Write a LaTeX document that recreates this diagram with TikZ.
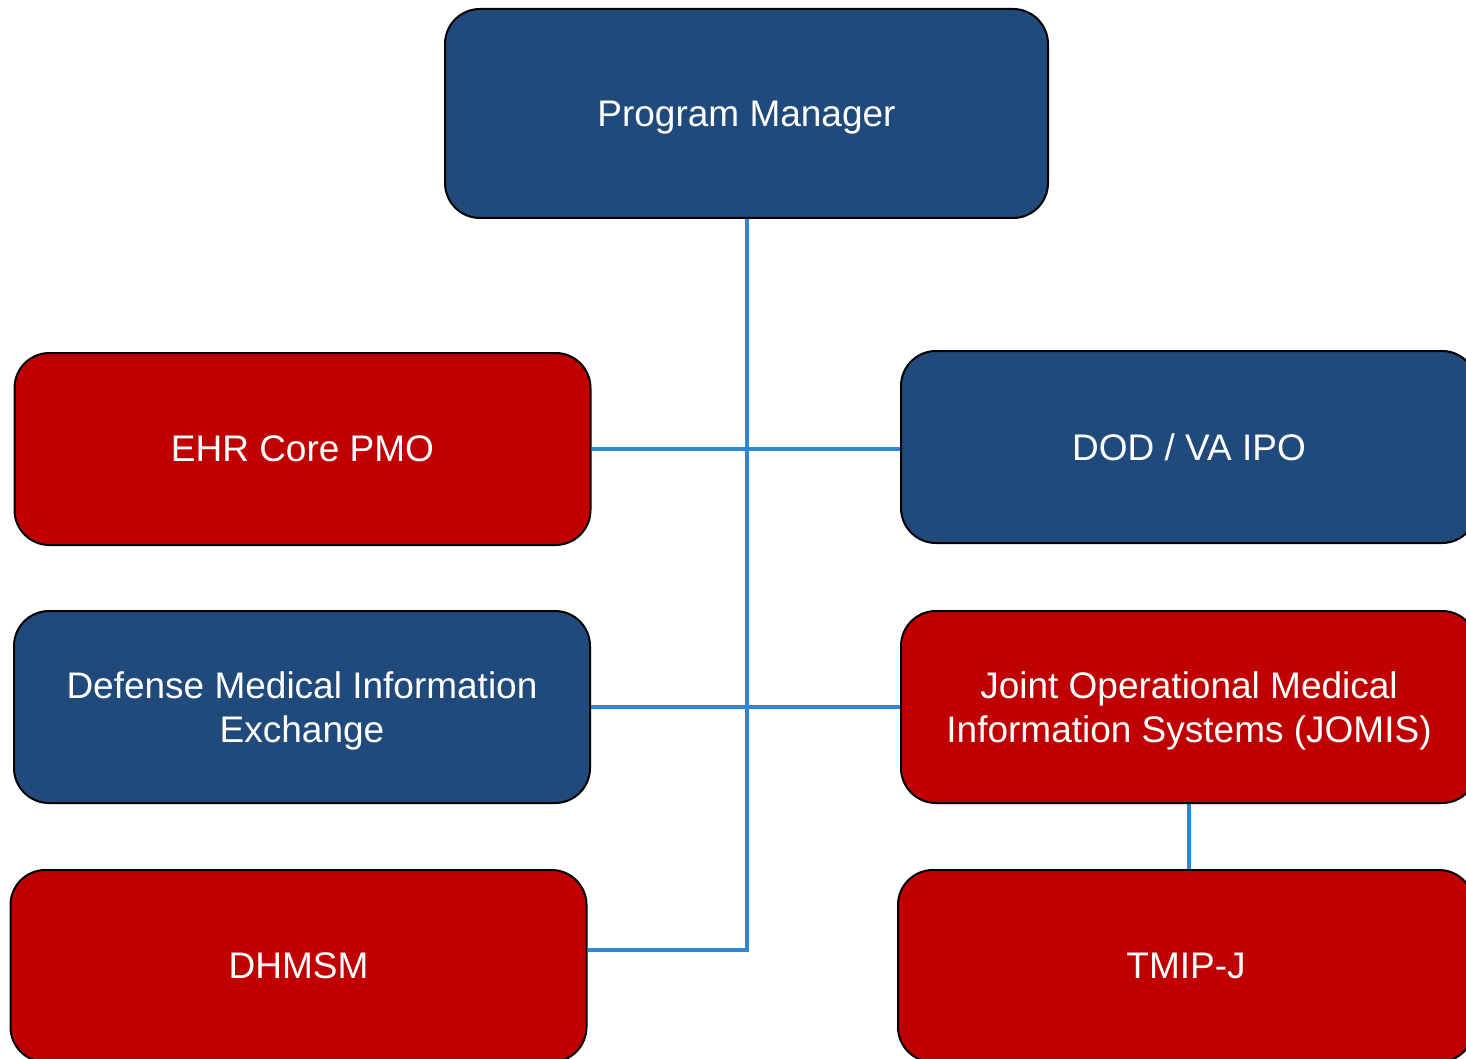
\documentclass[tikz,border=0pt]{standalone}
\usepackage{fontspec}
\setmainfont{Liberation Sans}
\usetikzlibrary{positioning,backgrounds}
\definecolor{pmblue}{HTML}{214A7C}
\definecolor{pmred}{HTML}{C00000}
\definecolor{linkblue}{HTML}{2E86D9}

\begin{document}
\begin{tikzpicture}[
    x=0.5pt, y=-0.5pt,
    every node/.style={draw=black, line width=1pt, rounded corners=17.5pt, text=white,
        align=center, font=\fontsize{18.5}{22}\selectfont},
    office/.style={fill=pmblue},
    project/.style={fill=pmred},
    unit/.style={minimum width=288pt, minimum height=96pt},
    link/.style={draw=linkblue, line width=2pt}
]

\clip (0,0) rectangle (1466,1059);

\node[office, minimum width=301.5pt, minimum height=104.5pt, text depth=0pt] (program_manager) at (746.5,113.5) {Program Manager};

\node[project, unit] (ehr_core) at (302.5,449) {EHR Core PMO};
\node[office, unit] (dod_va) at (1189,447) {DOD / VA IPO};
\node[office, unit, text depth=0pt] (dmix) at (302,707) {Defense Medical Information\\Exchange};
\node[project, unit, text depth=0pt] (jomis) at (1189,707) {Joint Operational Medical\\Information Systems (JOMIS)};
\node[project, unit] (dhmsm) at (298.5,966) {DHMSM};
\node[project, unit] (tmip_j) at (1186,966) {TMIP-J};

\coordinate (dhmsm_link) at ([yshift=8pt]dhmsm.east);

\begin{scope}[on background layer]
\draw[link] (program_manager.south) |- (dhmsm_link);
\draw[link] (ehr_core.east) -- (dod_va.west |- ehr_core.east);
\draw[link] (dmix.east) -- (jomis.west);
\draw[link] (jomis.south) -- (jomis.south |- tmip_j.north);
\end{scope}

\end{tikzpicture}
\end{document}
